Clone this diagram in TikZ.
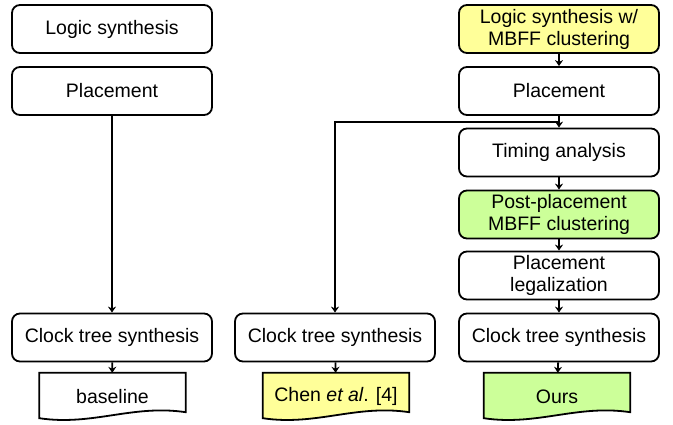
\documentclass[tikz,border=0pt]{standalone}
\usepackage{fontspec}
\setmainfont{Liberation Sans}
\usetikzlibrary{arrows.meta,calc,backgrounds}
\definecolor{ylw}{HTML}{FFFF99}
\definecolor{grn}{HTML}{CCFF99}
\begin{document}
\begin{tikzpicture}[x=1pt,y=-1pt,
  box/.style={draw,line width=1.8pt,rounded corners=8pt,minimum width=200pt,minimum height=48pt,
    align=center,inner sep=0pt,font=\fontsize{19.5}{22}\selectfont},
  docn/.style={minimum width=146pt,minimum height=47pt,inner sep=0pt,align=center,
    font=\fontsize{19.5}{22}\selectfont},
  docline/.style={draw,line width=1.8pt},
  arr/.style={-{Stealth[length=6pt,width=8pt]},line width=1.8pt}]
\useasboundingbox (0,0) rectangle (673,425);
% column 1
\node[box] (ls1) at (112,29) {Logic synthesis};
\node[box] (pl1) at (112,91) {Placement};
\node[box] (cts1) at (112,337.5) {Clock tree synthesis};
\node[docn] (base) at (112.5,396.5) {baseline};
% column 2
\node[box] (cts2) at (335,337.5) {Clock tree synthesis};
\node[docn] (chen) at (336,396.5) {Chen \textit{et al}. [4]};
% column 3
\node[box,fill=ylw] (ls3) at (559,29) {Logic synthesis w/\\MBFF clustering};
\node[box] (pl3) at (559,91) {Placement};
\node[box] (ta) at (559,152.5) {Timing analysis};
\node[box,fill=grn] (pp) at (559,214.5) {Post-placement\\MBFF clustering};
\node[box] (plg) at (559,275.5) {Placement\\legalization};
\node[box] (cts3) at (559,337.5) {Clock tree synthesis};
\node[docn] (ours) at (557,396.5) {Ours};
% document shapes
\begin{scope}[on background layer]
\foreach \d/\f in {base/white,chen/ylw,ours/grn}{
  \path[docline,fill=\f] (\d.north west) -- (\d.north east) -- ($(\d.south east)+(0,-8)$)
    .. controls ($(\d.south)+(20,-16)$) and ($(\d.south)+(-20,6)$) .. ($(\d.south west)+(0,-2)$) -- cycle;
}
\end{scope}
% connectors
\draw[arr] (pl1) -- (cts1);
\draw[arr] (cts1) -- (base);
\draw[arr] (cts2) -- (chen);
\draw[arr] (ls3) -- (pl3);
\draw[arr] (pl3) -- (ta);
\draw[arr] (ta) -- (pp);
\draw[arr] (pp) -- (plg);
\draw[arr] (plg) -- (cts3);
\draw[arr] (cts3) -- (ours);
\coordinate (j) at ($(pl3.south)!0.5!(ta.north)$);
\draw[arr] (j) -| (cts2.north);
\end{tikzpicture}
\end{document}
